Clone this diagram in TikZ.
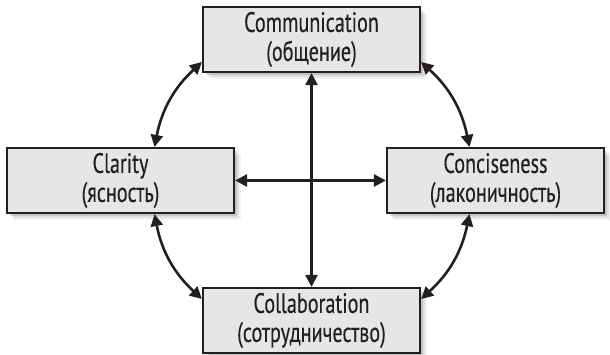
\documentclass[tikz,border=0pt]{standalone}
\usepackage{fontspec}
\setmainfont{PT Sans}
\newfontfamily\boxfont[FakeStretch=0.72,FakeBold=0.35]{PT Sans}
\usetikzlibrary{arrows.meta,shadows}
\definecolor{ink}{HTML}{231F20}
\definecolor{boxfill}{HTML}{E6E6E7}
\begin{document}
\begin{tikzpicture}[x=1pt,y=1pt,
  box/.style={draw=ink, line width=2.2pt, fill=boxfill, minimum height=65pt,
    inner sep=0pt, align=center, text=ink,
    font=\boxfont\fontsize{28}{29}\selectfont,
    drop shadow={shadow xshift=7pt, shadow yshift=-7pt, opacity=0.05, fill=black},
    drop shadow={shadow xshift=5pt, shadow yshift=-5pt, opacity=0.08, fill=black},
    drop shadow={shadow xshift=3pt, shadow yshift=-3pt, opacity=0.12, fill=black}},
  arr/.style={draw=ink, line width=2.6pt,
    {Triangle[length=12pt,width=12pt]}-{Triangle[length=12pt,width=12pt]}}]
\useasboundingbox (0,0) rectangle (610,-355);
\node[box, minimum width=217pt] (comm) at (311.5,-39.5) {Communication\\(общение)};
\node[box, minimum width=227pt] (clar) at (120.5,-180.5) {Clarity\\(ясность)};
\node[box, minimum width=217pt] (conc) at (495.5,-180.5) {Conciseness\\(лаконичность)};
\node[box, minimum width=217pt] (coll) at (311.5,-320.5) {Collaboration\\(сотрудничество)};
\draw[arr] (comm.south) -- (coll.north);
\draw[arr] (clar.east) -- (conc.west);
\draw[arr] ([yshift=-22.5pt]comm.west) to[bend right=18] ([xshift=34pt]clar.north);
\draw[arr] ([yshift=-22.5pt]comm.east) to[bend left=18] ([xshift=-26pt]conc.north);
\draw[arr] ([xshift=34pt]clar.south) to[bend right=18] ([yshift=21.5pt]coll.west);
\draw[arr] ([xshift=-26pt]conc.south) to[bend left=18] ([yshift=21.5pt]coll.east);
\end{tikzpicture}
\end{document}
